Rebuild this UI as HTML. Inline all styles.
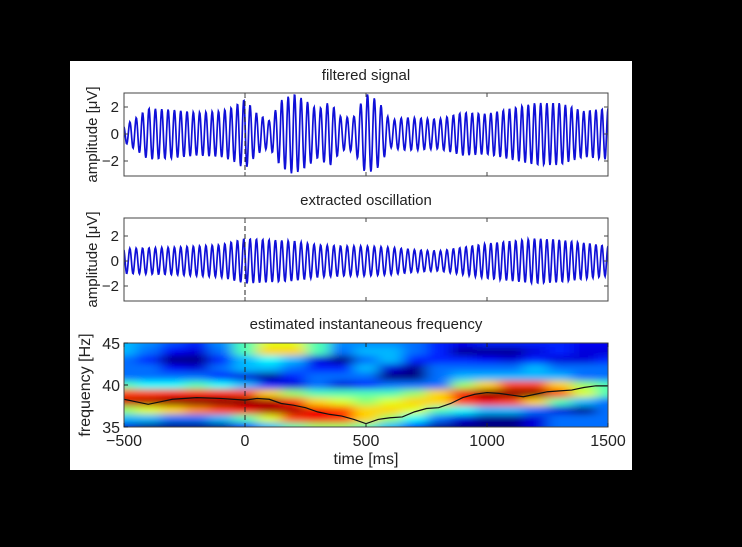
<!DOCTYPE html>
<html><head><meta charset="utf-8"><style>
html,body{margin:0;padding:0;background:#000;width:742px;height:547px;overflow:hidden}
svg{display:block}
text{font-family:"Liberation Sans",sans-serif;fill:#222}
</style></head><body>
<svg id="fig" width="742" height="547" xmlns="http://www.w3.org/2000/svg">
<defs>
<filter id="blur" x="-5%" y="-20%" width="110%" height="140%"><feGaussianBlur stdDeviation="7 3.5"/></filter>
<clipPath id="hmclip"><rect x="124" y="343" width="484" height="84"/></clipPath>
<clipPath id="c1"><rect x="124" y="93" width="484" height="83"/></clipPath>
<clipPath id="c2"><rect x="124" y="218" width="484" height="83"/></clipPath>
</defs>
<rect x="70" y="61" width="562" height="409" fill="#fff"/>
<g id="root"></g>
</svg>
<script>
// ---- data ----
const timeTicks=[-500,0,500,1000,1500];
const freqTicks=[45,40,35];
const ampTicks=[2,0,-2];
const hmTimes=[-500,-400,-300,-200,-100,0,100,200,300,400,500,600,700,800,900,1000,1100,1200,1300,1400,1500];
const hmFreqs=[45,44,43,42,41,40,39,38,37,36,35];
const hmValues=[
[.35,.32,.28,.25,.32,.45,.55,.55,.45,.32,.32,.32,.3,.25,.22,.25,.25,.25,.25,.22,.22],
[.35,.3,.22,.2,.3,.45,.6,.6,.45,.3,.35,.35,.3,.25,.15,.15,.15,.2,.25,.2,.2],
[.3,.25,.12,.08,.25,.35,.4,.35,.2,.12,.3,.35,.25,.25,.25,.22,.2,.25,.2,.2,.25],
[.3,.3,.22,.2,.3,.35,.35,.3,.25,.25,.35,.2,.15,.3,.3,.3,.3,.35,.3,.3,.3],
[.3,.3,.3,.3,.25,.2,.15,.25,.3,.3,.3,.1,.1,.3,.35,.35,.35,.35,.35,.3,.3],
[.45,.4,.4,.45,.4,.35,.25,.2,.3,.2,.25,.3,.3,.3,.5,.6,.7,.7,.6,.5,.45],
[.7,.7,.72,.72,.72,.7,.6,.5,.45,.45,.45,.45,.5,.6,.75,.85,.9,.88,.7,.55,.45],
[.78,.8,.85,.85,.85,.85,.8,.72,.6,.55,.5,.55,.6,.6,.7,.75,.7,.6,.45,.35,.3],
[.5,.55,.6,.65,.7,.75,.8,.8,.75,.7,.6,.6,.55,.45,.4,.35,.35,.3,.2,.15,.3],
[.35,.35,.3,.3,.35,.45,.55,.7,.75,.72,.6,.5,.4,.3,.2,.15,.15,.2,.3,.3,.3],
[.2,.15,.1,.1,.15,.25,.35,.45,.5,.5,.45,.35,.25,.15,.1,.1,.1,.2,.3,.3,.3]];
const ifTimes=[-500,-450,-400,-350,-300,-200,-100,0,50,100,150,200,250,300,350,400,450,500,550,600,650,700,750,800,850,900,950,1000,1050,1100,1150,1200,1250,1300,1350,1400,1450,1500];
const ifFreq=[38.3,38,37.7,38,38.3,38.5,38.4,38.2,38.4,38.3,37.8,37.6,37.3,36.8,36.5,36.3,35.9,35.4,35.9,36.1,36.2,36.8,37.2,37.3,37.8,38.5,38.9,39.1,39,38.8,38.6,38.9,39.2,39.3,39.4,39.7,39.9,39.9];
const filtEnvTimes=[-500,-450,-400,-300,-200,-100,-50,0,50,100,150,200,250,300,350,400,450,500,550,600,650,700,800,900,1000,1050,1100,1150,1200,1300,1400,1500];
const filtEnv=[0.6,1.2,1.9,1.8,1.6,1.7,2,2.6,1.5,1,2.5,3,2.5,1.8,2.4,1.2,1.3,3,2.5,1,1.2,1.2,1.1,1.6,1.5,1.7,1.9,2.1,2.3,2.3,1.7,1.9];
const oscEnvTimes=[-500,-300,-100,0,100,200,300,400,500,600,700,800,900,1000,1200,1300,1500];
const oscEnv=[1,1.1,1.3,1.8,1.7,1.6,1.3,1.2,1.2,1.1,0.9,0.8,1.1,1.4,1.8,1.7,1.2];

// ---- helpers ----
const NS="http://www.w3.org/2000/svg";
const root=document.getElementById('root');
function mk(tag,attrs,parent){const e=document.createElementNS(NS,tag);for(const k in attrs)e.setAttribute(k,attrs[k]);(parent||root).appendChild(e);return e;}
const X0=124,X1=608;
const xS=t=>X0+(t+500)/2000*(X1-X0);
function interp(xs,ys,x){if(x<=xs[0])return ys[0];for(let i=1;i<xs.length;i++){if(x<=xs[i]){const f=(x-xs[i-1])/(xs[i]-xs[i-1]);return ys[i-1]+f*(ys[i]-ys[i-1]);}}return ys[ys.length-1];}
function jet(v){v=(v-0.45)*1.45+0.45;v=Math.max(0,Math.min(1,v));
 const r=Math.max(0,Math.min(1,Math.min(4*v-1.5,-4*v+4.5)));
 const g=Math.max(0,Math.min(1,Math.min(4*v-0.5,-4*v+3.5)));
 const b=Math.max(0,Math.min(1,Math.min(4*v+0.5,-4*v+2.5)));
 return `rgb(${Math.round(r*255)},${Math.round(g*255)},${Math.round(b*255)})`;}

function txt(x,y,s,opts,name){const t=mk('text',Object.assign({x:x,y:y,'font-size':15},opts||{}));t.textContent=s;
 
 return t;}

// ---- signal panels ----
function signalPanel(top,bottom,zeroY,ppu,envT,env,clip,title,prefix){
 txt(366,top-13,title,{'text-anchor':'middle'},prefix+'-title');
 const g=mk('g',{'clip-path':'url(#'+clip+')'});
 
 
 let phase=0,pts=[];const dt=2;
 for(let t=-500;t<=1500;t+=dt){
  const f=interp(ifTimes,ifFreq,t);
  phase+=2*Math.PI*f*dt/1000;
  const a=interp(envT,env,t);
  pts.push(xS(t).toFixed(2)+','+(zeroY-ppu*a*Math.cos(phase)).toFixed(2));
 }
 const p=mk('polyline',{points:pts.join(' '),fill:'none',stroke:'#1010d8','stroke-width':1.7},g);
 
 
 const d=mk('line',{x1:xS(0),x2:xS(0),y1:top,y2:bottom,stroke:'#222','stroke-dasharray':'5,3','stroke-width':1});
 
 
 const box=mk('rect',{x:X0,y:top,width:X1-X0,height:bottom-top,fill:'none',stroke:'#444','stroke-width':1});
 
 
 ampTicks.forEach(v=>{const y=zeroY-ppu*v;
  mk('line',{x1:X0,x2:X0+4,y1:y,y2:y,stroke:'#444'});mk('line',{x1:X1-4,x2:X1,y1:y,y2:y,stroke:'#444'});
  txt(119,y+5,v<0?'\u22122':String(v),{'text-anchor':'end'},prefix+'-ytick-label');});
 timeTicks.forEach(t=>{const x=xS(t);mk('line',{x1:x,x2:x,y1:bottom,y2:bottom-4,stroke:'#444'});mk('line',{x1:x,x2:x,y1:top,y2:top+4,stroke:'#444'});});
 txt(0,0,'amplitude [\u03bcV]',{'text-anchor':'middle',transform:`translate(97,${(top+bottom)/2}) rotate(-90)`},prefix+'-y-axis-title');
}
signalPanel(93,176,134,13.5,filtEnvTimes,filtEnv,'c1','filtered signal','filtered-signal');
signalPanel(218,301,261,12.5,oscEnvTimes,oscEnv,'c2','extracted oscillation','extracted-oscillation');

// ---- heatmap ----
const HT=343,HB=427;
const yF=f=>HB-(f-35)/10*(HB-HT);
txt(366,329,'estimated instantaneous frequency',{'text-anchor':'middle'},'heatmap-title');
const hg=mk('g',{'clip-path':'url(#hmclip)'});


const cells=mk('g',{filter:'url(#blur)'},hg);
const cw=xS(100)-xS(0),ch=yF(35)-yF(36);
hmFreqs.forEach((f,i)=>hmTimes.forEach((t,j)=>{
 const r=mk('rect',{x:xS(t)-cw/2-(j==0?20:0),y:yF(f)-ch/2-(i==0?15:0),width:cw+(j==0||j==hmTimes.length-1?20:0)+0.5,height:ch+(i==0||i==hmFreqs.length-1?15:0)+0.5,fill:jet(hmValues[i][j])},cells);
 
 
}));
const ifl=mk('polyline',{points:ifTimes.map((t,i)=>xS(t)+','+yF(ifFreq[i])).join(' '),fill:'none',stroke:'#111','stroke-width':1.2},hg);


const hd=mk('line',{x1:xS(0),x2:xS(0),y1:HT,y2:HB,stroke:'#222','stroke-dasharray':'5,3'});


const hb=mk('rect',{x:X0,y:HT,width:X1-X0,height:HB-HT,fill:'none',stroke:'#444'});


freqTicks.forEach(f=>{const y=yF(f);mk('line',{x1:X0,x2:X0+4,y1:y,y2:y,stroke:'#222'});
 txt(120,y+6,String(f),{'text-anchor':'end','font-size':16},'heatmap-ytick-label');});
timeTicks.forEach(t=>{const x=xS(t);mk('line',{x1:x,x2:x,y1:HT,y2:HT+4,stroke:'#222'});mk('line',{x1:x,x2:x,y1:HB,y2:HB-4,stroke:'#222'});
 txt(x,446,t<0?'\u2212'+(-t):String(t),{'text-anchor':'middle','font-size':16},'heatmap-xtick-label');});
txt(366,464,'time [ms]',{'text-anchor':'middle','font-size':16},'x-axis-title');
txt(0,0,'frequency [Hz]',{'text-anchor':'middle','font-size':16,transform:`translate(90,${(HT+HB)/2}) rotate(-90)`},'heatmap-y-axis-title');
</script>
</body></html>
